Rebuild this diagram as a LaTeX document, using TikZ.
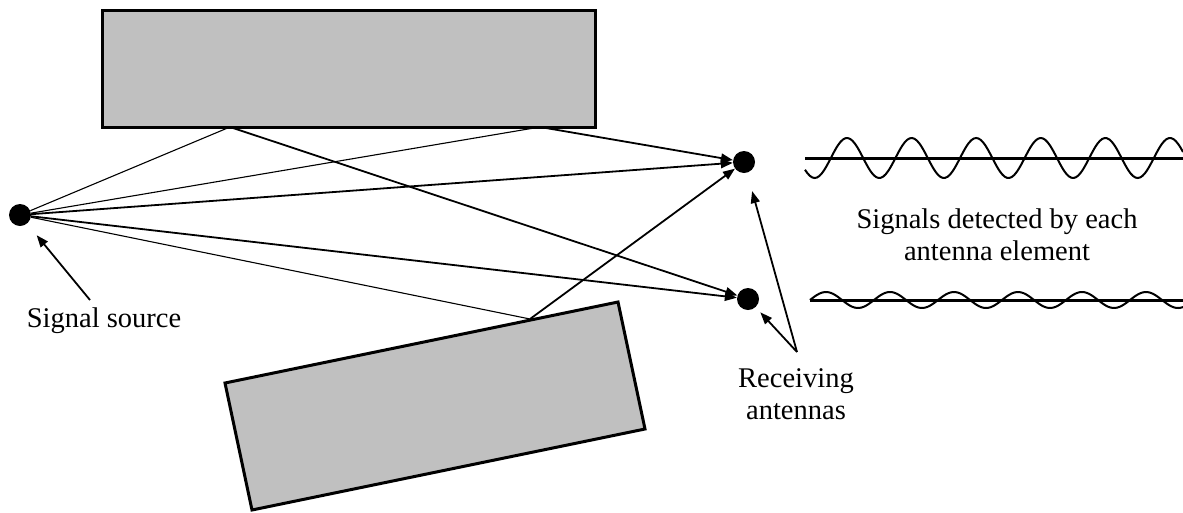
\documentclass[tikz,border=0pt]{standalone}
\usepackage{fontspec}
\setmainfont{Liberation Serif}
\usetikzlibrary{arrows.meta}
\definecolor{wallgray}{RGB}{192,192,192}
\begin{document}
\begin{tikzpicture}[x=1pt, y=-1pt, >={Triangle[length=12pt,width=9pt]},
    every node/.style={font=\fontsize{28.5}{32}\selectfont},
    wall/.style={fill=wallgray, draw=black, line width=3pt},
    dot/.style={circle, fill=black, inner sep=0pt, minimum size=22pt},
    thinray/.style={line width=1.1pt},
    thickray/.style={line width=1.8pt}]
    \useasboundingbox (0,0) rectangle (1183,512);
    \draw[wall] (102,10) rectangle (595,127);
    \draw[wall] (225,383) -- (618,302) -- (645,429) -- (252,510) -- cycle;
    \node[dot] (src) at (20,215) {};
    \node[dot] (ant1) at (744,162) {};
    \node[dot] (ant2) at (748,299) {};
    \coordinate (r1) at (230,127);
    \coordinate (r2) at (540,127);
    \coordinate (r3) at (530,319);
    \draw[thinray] (src) -- (r1);
    \draw[thinray] (src) -- (r2);
    \draw[thinray] (src) -- (r3);
    \draw[thickray, ->] (r1) -- (ant2);
    \draw[thickray, ->] (r2) -- (ant1);
    \draw[thickray, ->] (r3) -- (ant1);
    \draw[thickray, ->] (src) -- (ant1);
    \draw[thickray, ->] (src) -- (ant2);
    \node[anchor=base] (srclabel) at (104,327) {Signal source};
    \coordinate (srctail) at (90,300);
    \draw[thickray, ->, shorten >=15pt] (srctail) -- (src);
    \node[align=center] (antlabel) at (796,394) {Receiving\\antennas};
    \coordinate (anttail) at (797,352);
    \draw[thickray, ->, shorten >=19pt] (anttail) -- (ant1);
    \draw[thickray, ->, shorten >=7pt] (anttail) -- (ant2);
    \node[align=center] (siglabel) at (997,235) {Signals detected by each\\antenna element};
    \draw[line width=3pt] (805,158) -- (1183,158);
    \draw[line width=2pt, domain=805:1183, samples=160, smooth]
        plot (\x, {158-20*cos(5.5728*(\x-847))});
    \draw[line width=3pt] (810,300) -- (1183,300);
    \draw[line width=2pt, domain=810:1183, samples=160, smooth]
        plot (\x, {300-8*sin(5.625*(\x-810))});
\end{tikzpicture}
\end{document}
